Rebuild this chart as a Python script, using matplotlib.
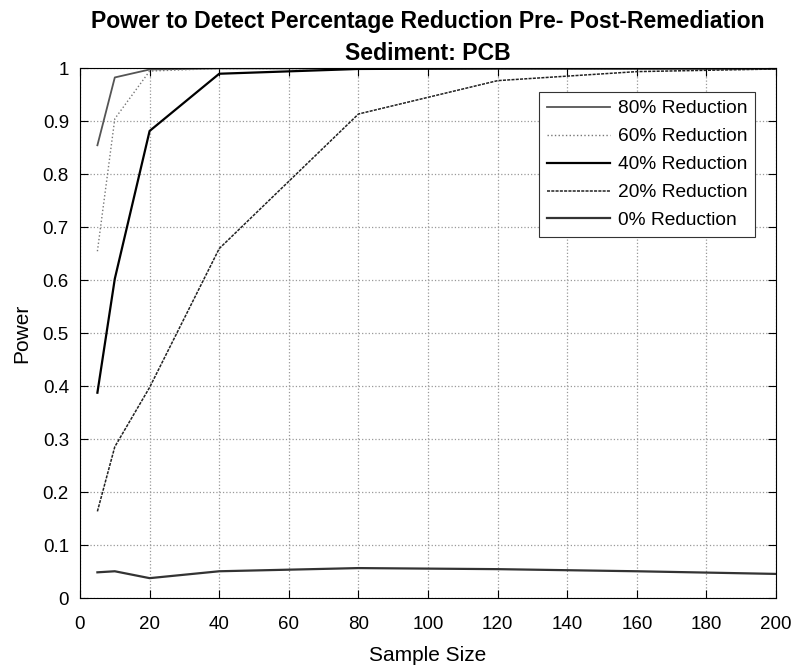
import numpy as np
import matplotlib.pyplot as plt

plt.rcParams['font.family'] = ['Liberation Sans', 'DejaVu Sans']

# sample sizes and power per reduction level
sample_size = [5, 10, 20, 40, 80, 120, 160, 200]
power_80 = [0.855, 0.983, 0.998, 1.0, 1.0, 1.0, 1.0, 1.0]
power_60 = [0.655, 0.905, 0.995, 1.0, 1.0, 1.0, 1.0, 1.0]
power_40 = [0.388, 0.603, 0.882, 0.99, 0.999, 1.0, 1.0, 1.0]
power_20 = [0.164, 0.286, 0.398, 0.66, 0.914, 0.977, 0.994, 0.999]
power_0 = [0.049, 0.051, 0.038, 0.051, 0.057, 0.055, 0.051, 0.046]

labels = ['80% Reduction', '60% Reduction', '40% Reduction',
          '20% Reduction', '0% Reduction']

fig = plt.figure(figsize=(7.96, 6.69), dpi=100)
ax = fig.add_axes([0.1005, 0.1057, 0.8745, 0.792])

ax.plot(sample_size, power_80, color='#555555', lw=1.3, label=labels[0])
ax.plot(sample_size, power_60, color='#777777', lw=1.0, ls=':', label=labels[1])
ax.plot(sample_size, power_40, color='black', lw=1.6, label=labels[2])
ax.plot(sample_size, power_20, color='#222222', lw=1.1, ls=(0, (2, 0.8)), label=labels[3])
ax.plot(sample_size, power_0, color='#333333', lw=1.6, label=labels[4])

ax.set_xlim(0, 200)
ax.set_ylim(0, 1)
ax.set_xticks(np.arange(0, 201, 20))
ax.set_yticks(np.arange(0, 1.01, 0.1))
ax.set_yticklabels(['0', '0.1', '0.2', '0.3', '0.4', '0.5', '0.6', '0.7', '0.8', '0.9', '1'])
ax.tick_params(direction='in', top=True, right=True, labelsize=13.5, length=6, width=0.8)
ax.tick_params(axis='x', pad=13)
ax.tick_params(axis='y', pad=8)
ax.grid(True, ls=':', color='#999999', lw=0.9)
for s in ax.spines.values():
    s.set_linewidth(0.8)

ax.set_xlabel('Sample Size', fontsize=15, labelpad=9)
ax.set_ylabel('Power', fontsize=15, labelpad=8)
ax.set_title('Power to Detect Percentage Reduction Pre- Post-Remediation\nSediment: PCB',
             fontsize=16.6, fontweight='bold', pad=6, linespacing=1.5)

leg = ax.legend(loc='upper right', bbox_to_anchor=(0.97, 0.955), borderaxespad=0,
                fontsize=13.8, handlelength=3.3, handletextpad=0.4, fancybox=False,
                framealpha=1, edgecolor='#333333', labelspacing=0.55)
leg.get_frame().set_linewidth(0.8)

fig.savefig('out.png', dpi=100)
